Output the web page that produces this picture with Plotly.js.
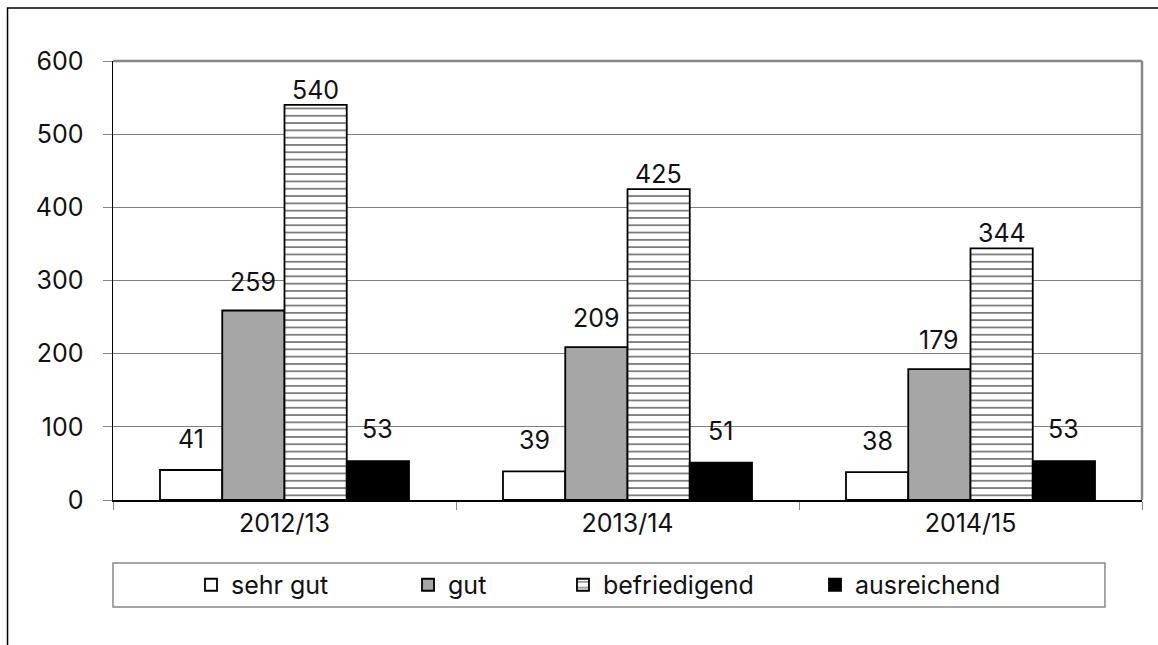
<!DOCTYPE html>
<html><head><meta charset="utf-8">
<script src="https://cdn.plot.ly/plotly-3.0.1.min.js"></script>
<style>html,body{margin:0;padding:0;background:#fff}#chart{width:1158px;height:645px}</style>
</head><body><div id="chart"></div>
<script>
const categories = ['2012/13', '2013/14', '2014/15'];
const sehrGut = [41, 39, 38];
const gut = [259, 209, 179];
const befriedigend = [540, 425, 344];
const ausreichend = [53, 51, 53];
const seriesNames = ['sehr gut', 'gut', 'befriedigend', 'ausreichend'];
const yTicks = [0, 100, 200, 300, 400, 500, 600];

const font = {family: 'Inter, Roboto, "Liberation Sans", sans-serif', size: 25, color: '#111'};
const seriesValues = [sehrGut, gut, befriedigend, ausreichend];
const markers = [
  {color: '#ffffff'},
  {color: '#a6a6a6'},
  {color: '#ffffff', pattern: {shape: '-', fgcolor: '#000', bgcolor: '#fff', size: 7.3, solidity: 0.25, fillmode: 'overlay'}},
  {color: '#000000'}
];
const legendIds = ['legend', 'legend2', 'legend3', 'legend4'];
const labelShift = [14, 12, -2, 15];
const legendX = [0.0758, 0.2867, 0.4373, 0.6822];

const data = seriesValues.map((vals, i) => ({
  type: 'bar', name: seriesNames[i], x: categories, y: vals,
  legend: legendIds[i], hoverinfo: 'skip',
  marker: Object.assign({line: {color: '#000', width: 1.8}}, markers[i])
}));

const nS = seriesValues.length;
const bargap = 0.274;
const plotW = 1158 - 113 - 16;
const barPx = plotW / categories.length * (1 - bargap) / nS;
const annotations = [];
seriesValues.forEach((vals, i) => {
  vals.forEach((v, j) => {
    annotations.push({x: categories[j], y: v, xref: 'x', yref: 'y', text: String(v),
      showarrow: false, yanchor: 'bottom', xanchor: 'center',
      xshift: (i - (nS - 1) / 2) * barPx, yshift: labelShift[i], font: font});
  });
});

const layout = {
  width: 1158, height: 645,
  margin: {l: 113, r: 16, t: 61, b: 145},
  paper_bgcolor: '#fff', plot_bgcolor: '#fff',
  font: font,
  barmode: 'group', bargap: bargap, bargroupgap: 0,
  showlegend: true,
  annotations: annotations,
  xaxis: {type: 'category', showline: true, linecolor: '#000', linewidth: 1.5,
    ticks: 'outside', tickson: 'boundaries', ticklen: 8, tickcolor: '#888', tickwidth: 1,
    tickfont: font, showgrid: false},
  yaxis: {range: [0, 600], tickvals: yTicks, ticktext: yTicks.map(String), showline: true,
    linecolor: '#000', linewidth: 1.5, ticks: 'outside', ticklen: 9, tickcolor: '#888',
    ticklabelstandoff: 14,
    showgrid: true, gridcolor: '#808080', gridwidth: 1, tickfont: font, zeroline: false},
  shapes: [
    {type: 'line', xref: 'paper', yref: 'paper', x0: 0, x1: 1, y0: 1, y1: 1, line: {color: '#888', width: 2.5}},
    {type: 'line', xref: 'paper', yref: 'paper', x0: 1, x1: 1, y0: 0, y1: 1, line: {color: '#888', width: 2.5}},
    {type: 'rect', xref: 'paper', yref: 'paper', x0: 0, x1: 0.964, y0: -0.1435, y1: -0.2437, line: {color: '#888', width: 1.5}, layer: 'below'},
    {type: 'rect', xref: 'paper', yref: 'paper', x0: -0.1025, x1: 1.2, y0: 1.1207, y1: -0.6, line: {color: '#000', width: 1.5}, layer: 'below'}
  ]
};
legendIds.forEach((id, i) => {
  layout[id] = {orientation: 'h', x: legendX[i], xanchor: 'left', y: -0.1936, yanchor: 'middle',
    font: font, itemwidth: 30, bgcolor: 'rgba(0,0,0,0)', borderwidth: 0};
});
Plotly.newPlot('chart', data, layout, {staticPlot: true});
</script></body></html>
